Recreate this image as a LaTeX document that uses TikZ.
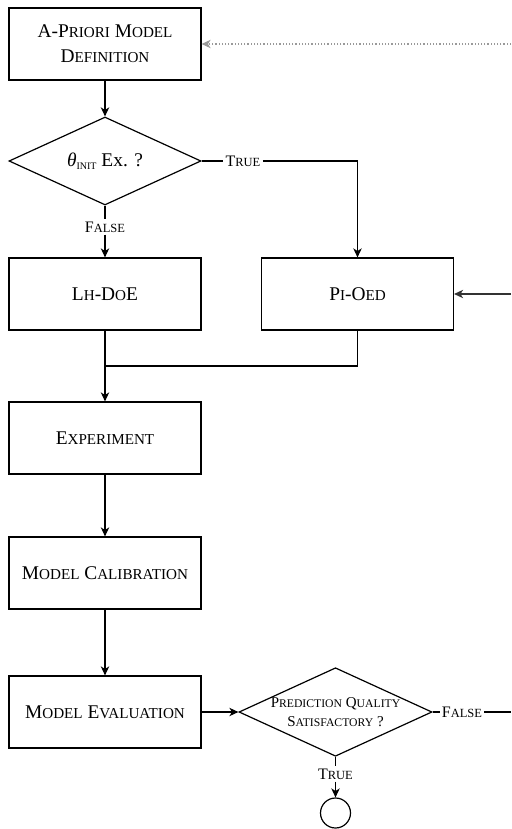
\documentclass[tikz,border=0pt]{standalone}
\usepackage{fontspec}
\setmainfont{Liberation Serif}
\usepackage{graphicx}
\usetikzlibrary{shapes.geometric,arrows.meta}
\newcommand\smc[1]{\scalebox{0.78}{\MakeUppercase{#1}}}
\begin{document}
\begin{tikzpicture}[x=0.5pt,y=-0.5pt,
  box/.style={draw, line width=0.6pt, minimum width=96pt, minimum height=36pt, inner sep=0pt, align=center, font=\fontsize{9.7}{12.5}\selectfont},
  dec/.style={draw, diamond, line width=0.6pt, minimum width=96pt, minimum height=44pt, inner sep=0pt, aspect=2.18, align=center},
  lbl/.style={inner sep=1pt, font=\fontsize{8}{9}\selectfont},
  conn/.style={line width=0.6pt},
  arr/.style={conn, -{Stealth[length=4.5pt,width=4.2pt,inset=1.3pt]}},
]
\useasboundingbox (0,0) rectangle (511,829);
% nodes
\node[box] (apriori) at (105,44) {A-P\smc{riori} M\smc{odel}\\D\smc{efinition}};
\node[dec, font=\fontsize{9.7}{11}\selectfont] (init) at (105,161) {\textit{θ}\raisebox{-0.4ex}{\fontsize{5}{5}\selectfont INIT} Ex. ?};
\node[lbl] (t1) at (243,161) {T\smc{rue}};
\node[lbl] (f1) at (105,227) {F\smc{alse}};
\node[box] (lh) at (105,294) {L\smc{h}-D\smc{o}E};
\node[box] (pi) at (357.5,294) {P\smc{i}-O\smc{ed}};
\coordinate (join) at (105,366);
\node[box] (exp) at (105,438) {E\smc{xperiment}};
\node[box] (cal) at (105,573) {M\smc{odel} C\smc{alibration}};
\node[box] (eval) at (105,712) {M\smc{odel} E\smc{valuation}};
\node[dec, font=\fontsize{7.5}{9.5}\selectfont] (pq) at (335.5,712) {P\smc{rediction} Q\smc{uality}\\S\smc{atisfactory} ?};
\node[lbl] (f2) at (462,712) {F\smc{alse}};
\node[lbl] (t2) at (335.5,774) {T\smc{rue}};
\node[draw, circle, line width=0.6pt, minimum size=15pt, inner sep=0pt] (end) at (335.5,813) {};
\coordinate (r1) at (511,44);
\coordinate (r2) at (511,294);
\coordinate (r3) at (511,712);
% connectors
\draw[arr, line width=0.8pt] (apriori) -- (init);
\draw[conn] (init.east) -- (t1.west);
\draw[arr] (t1.east) -| (pi.north);
\draw[conn] (init.south) -- (f1.north);
\draw[arr] (f1.south) -- (lh.north);
\draw[conn] (lh.south) -- (join);
\draw[conn] (pi.south) |- (join);
\draw[arr] (join) -- (exp.north);
\draw[arr] (exp) -- (cal);
\draw[arr] (cal) -- (eval);
\draw[arr] (eval.east) -- (pq.west);
\draw[conn] (pq.east) -- (f2.west);
\draw[conn] (f2.east) -- (r3);
\draw[conn] (pq.south) -- (t2.north);
\draw[arr] (t2.south) -- (end.north);
\draw[arr, gray!80, densely dotted] (r1) -- (apriori.east);
\draw[arr, black!80] (r2) -- (pi.east);
\end{tikzpicture}
\end{document}
